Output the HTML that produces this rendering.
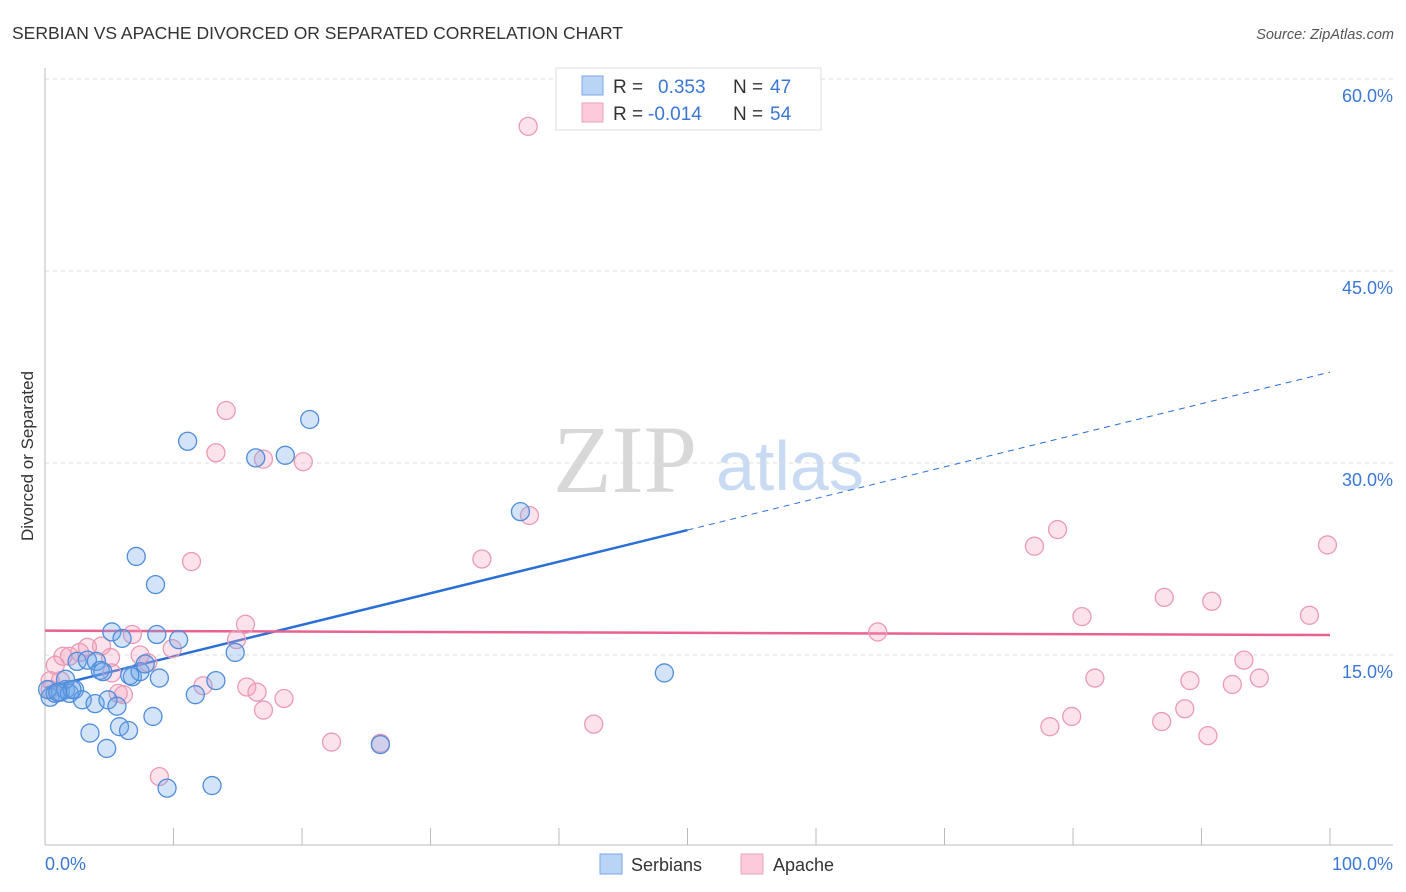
<!DOCTYPE html>
<html><head><meta charset="utf-8"><style>
body{margin:0;background:#fff;font-family:"Liberation Sans",sans-serif;}
svg{display:block}
</style></head><body>
<svg id="chart" width="1406" height="892" xmlns="http://www.w3.org/2000/svg">
<text x="12" y="39" font-size="17.5" fill="#333">SERBIAN VS APACHE DIVORCED OR SEPARATED CORRELATION CHART</text>
<text x="1394" y="39" font-size="14.5" fill="#555" font-style="italic" text-anchor="end">Source: ZipAtlas.com</text>
<text x="33" y="456" font-size="17" fill="#333" text-anchor="middle" transform="rotate(-90 33 456)">Divorced or Separated</text>
<g>
<text x="553" y="492" font-family="Liberation Serif,serif" font-size="96" fill="#d8d8d8">ZIP</text>
<text x="716" y="490" font-size="70" fill="#c9daf3">atlas</text>
</g>
<g id="grid"></g><g id="axes"></g><g id="lines"></g><g id="points"></g>
<g>
<rect x="556" y="68" width="265" height="62" fill="#fff" stroke="#ddd"/>
<rect x="582" y="76" width="21" height="19" fill="#b9d4f5" stroke="#7aa8e6"/>
<rect x="582" y="103" width="21" height="19" fill="#fccadb" stroke="#eea0bc"/>
<text x="613" y="93" font-size="19" fill="#333">R = <tspan x="658" fill="#3a78d4">0.353</tspan><tspan x="733" fill="#333">N = </tspan><tspan x="770" fill="#3a78d4">47</tspan></text>
<text x="613" y="120" font-size="19" fill="#333">R = <tspan x="648" fill="#3a78d4">-0.014</tspan><tspan x="733" fill="#333">N = </tspan><tspan x="770" fill="#3a78d4">54</tspan></text>
</g>
<g>
<rect x="600" y="854" width="22" height="20" fill="#b9d4f5" stroke="#7aa8e6"/>
<text x="631" y="871" font-size="18" fill="#333">Serbians</text>
<rect x="741" y="854" width="22" height="20" fill="#fccadb" stroke="#eea0bc"/>
<text x="773" y="871" font-size="18" fill="#333">Apache</text>
</g>
</svg>
<script>
const blueX=[0.4,0.8,1.2,1.6,1.9,2.3,0.2,1.6,2.5,2.9,3.3,3.9,4.0,4.3,4.9,5.2,5.6,5.8,6.0,6.5,6.8,7.1,7.4,7.8,8.4,8.6,8.7,8.9,9.5,10.4,11.1,11.7,13.0,13.3,14.8,16.4,18.7,20.6,3.5,4.8,26.1,37.0,48.2,4.5,2.1,1.0,6.6];
const blueY=[11.7,12.0,12.1,12.3,12.0,12.3,12.3,13.1,14.5,11.5,14.6,11.2,14.5,13.8,11.5,16.8,11.0,9.4,16.3,9.1,13.3,22.7,13.7,14.3,10.2,20.5,16.6,13.2,4.6,16.2,31.7,11.9,4.8,13.0,15.2,30.4,30.6,33.4,8.9,7.7,8.0,26.2,13.6,13.7,12.3,12.1,13.4];
const pinkX=[37.6,14.1,13.3,17.0,20.1,11.4,34.0,37.7,15.6,14.9,9.9,6.8,4.4,3.3,2.7,1.9,1.4,0.8,0.4,5.1,5.2,7.4,8.0,5.7,6.1,12.3,15.7,16.5,17.0,18.6,22.3,26.1,8.9,42.7,64.8,77.0,78.8,80.7,81.7,78.2,79.9,87.1,89.1,88.7,86.9,90.5,90.8,92.4,93.3,94.5,98.4,99.8,0.4,1.2];
const pinkY=[56.3,34.1,30.8,30.3,30.1,22.3,22.5,25.9,17.4,16.2,15.5,16.6,15.7,15.6,15.2,14.9,14.9,14.2,13.0,14.8,13.6,15.0,14.4,12.0,11.9,12.6,12.5,12.1,10.7,11.6,8.2,8.1,5.5,9.6,16.8,23.5,24.8,18.0,13.2,9.4,10.2,19.5,13.0,10.8,9.8,8.7,19.2,12.7,14.6,13.2,18.1,23.6,12.3,13.0];
const yTicks=[15,30,45,60];
const yTickLabels=["15.0%","30.0%","45.0%","60.0%"];
const xTicks=[0,10,20,30,40,50,60,70,80,90,100];
const blueTrend=[12.42,37.1];
const blueSolidEnd=50;
const pinkTrend=[16.9,16.56];

const NS="http://www.w3.org/2000/svg";
const sx=v=>45+v*12.85;
const sy=v=>847-v*12.8;
function mk(parent,tag,attrs){const e=document.createElementNS(NS,tag);for(const k in attrs)e.setAttribute(k,attrs[k]);document.getElementById(parent).appendChild(e);return e;}
yTicks.forEach((t,i)=>{
  const g=mk('grid','line',{x1:45,x2:1393,y1:sy(t),y2:sy(t),stroke:'#ddd','stroke-dasharray':'4,4'});
  
  
  const l=mk('grid','text',{x:1393,y:sy(t)+23,'font-size':18,fill:'#3a78d4','text-anchor':'end'});
  l.textContent=yTickLabels[i];
  
  
});
let a=mk('axes','line',{x1:45,x2:45,y1:68,y2:845,stroke:'#bbb'});


a=mk('axes','line',{x1:45,x2:1393,y1:845,y2:845,stroke:'#bbb'});


xTicks.forEach(t=>{
  const e=mk('axes','line',{x1:sx(t),x2:sx(t),y1:828,y2:845,stroke:'#bbb'});
  
  
});
let xl=mk('axes','text',{x:45,y:870,'font-size':18,fill:'#3a78d4'});xl.textContent='0.0%';


xl=mk('axes','text',{x:1393,y:870,'font-size':18,fill:'#3a78d4','text-anchor':'end'});xl.textContent='100.0%';



function dots(xs,ys,fill,stroke,name){xs.forEach((x,i)=>{
  const c=mk('points','circle',{cx:sx(x),cy:sy(ys[i]),r:9,fill:fill,stroke:stroke,'stroke-width':1.3});
  
  
});}
dots(pinkX,pinkY,'rgba(244,160,190,0.3)','#eb9ab8','apache-point');
dots(blueX,blueY,'rgba(110,165,232,0.3)','#4f8ddb','serbian-point');

const bAt=x=>blueTrend[0]+(blueTrend[1]-blueTrend[0])*x/100;
let ln=mk('lines','line',{x1:sx(0),y1:sy(bAt(0)),x2:sx(blueSolidEnd),y2:sy(bAt(blueSolidEnd)),stroke:'#2a6fd6','stroke-width':2.5});


ln=mk('lines','line',{x1:sx(blueSolidEnd),y1:sy(bAt(blueSolidEnd)),x2:sx(100),y2:sy(bAt(100)),stroke:'#2a6fd6','stroke-width':1,'stroke-dasharray':'6,5'});


ln=mk('lines','line',{x1:sx(0),y1:sy(pinkTrend[0]),x2:sx(100),y2:sy(pinkTrend[1]),stroke:'#e8628f','stroke-width':2.5});


</script>
</body></html>
